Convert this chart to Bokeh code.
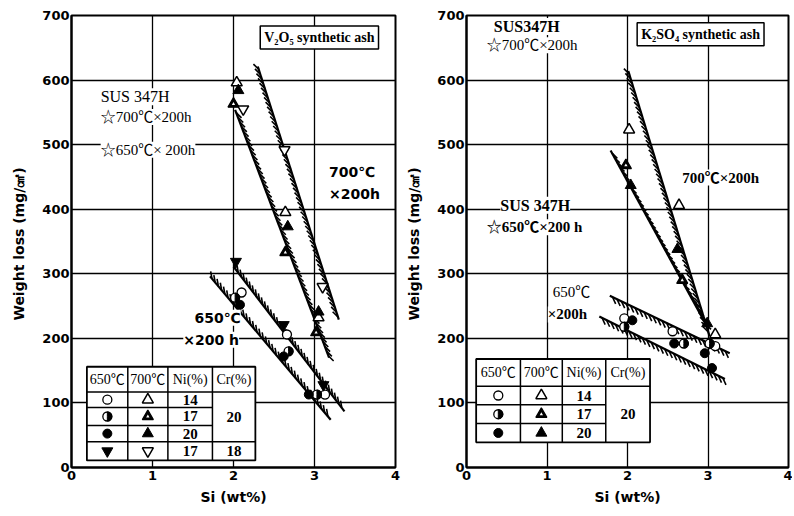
import numpy as np
from bokeh.plotting import figure
from bokeh.layouts import row
from bokeh.models import Label, Range1d, FixedTicker
from bokeh.core.properties import value
from bokeh.embed import file_html
from bokeh.resources import INLINE

# ---------------- data : V2O5 synthetic ash (left) ----------------
v_c650_ni14_x = [2.10, 2.66, 3.13]; v_c650_ni14_y = [271, 206, 113]   # open circle
v_c650_ni17_x = [2.02, 2.68, 3.03]; v_c650_ni17_y = [263, 180, 113]   # half circle
v_c650_ni20_x = [2.08, 2.62, 2.93]; v_c650_ni20_y = [252, 172, 113]   # filled circle
v_c650_cr18_x = [2.03, 2.62, 3.11]; v_c650_cr18_y = [319, 221, 128]   # filled down-triangle
v_t700_ni14_x = [2.04, 2.64, 3.05]; v_t700_ni14_y = [596, 395, 232]   # open triangle
v_t700_ni17_x = [2.00, 2.64, 3.02]; v_t700_ni17_y = [563, 333, 209]   # half triangle
v_t700_ni20_x = [2.06, 2.67, 3.05]; v_t700_ni20_y = [584, 373, 241]   # filled triangle
v_t700_cr18_x = [2.12, 2.63, 3.10]; v_t700_cr18_y = [555, 492, 280]   # open down-triangle
# band boundary lines (700 upper, 700 lower, 650 upper, 650 lower)
v_band_x0 = [2.30, 2.02, 2.00, 1.71]; v_band_y0 = [621, 554, 311, 296]
v_band_x1 = [3.30, 3.18, 3.37, 3.20]; v_band_y1 = [229, 170, 87, 74]

# ---------------- data : K2SO4 synthetic ash (right) ----------------
k_c650_ni14_x = [1.96, 2.56, 3.09]; k_c650_ni14_y = [231, 211, 188]
k_c650_ni17_x = [1.96, 2.70, 3.02]; k_c650_ni17_y = [218, 192, 192]
k_c650_ni20_x = [2.06, 2.58, 2.96, 3.05]; k_c650_ni20_y = [228, 192, 177, 154]
k_t700_ni14_x = [2.02, 2.64, 3.09]; k_t700_ni14_y = [523, 406, 206]
k_t700_ni17_x = [1.98, 2.68]; k_t700_ni17_y = [468, 290]
k_t700_ni20_x = [2.04, 2.62, 2.99]; k_t700_ni20_y = [437, 338, 223]
k_band_x0 = [2.01, 1.79, 1.78, 1.65]; k_band_y0 = [614, 491, 266, 234]
k_band_x1 = [3.02, 2.99, 3.27, 3.21]; k_band_y1 = [203, 218, 177, 137]

x_ticks = [0, 1, 2, 3, 4]
y_ticks = [0, 100, 200, 300, 400, 500, 600, 700]

# legend table contents
tab_head = ["650℃", "700℃", "Ni(%)", "Cr(%)"]
v_tab_ni = ["14", "17", "20", "17"]
v_tab_cr = ["20", "18"]
k_tab_ni = ["14", "17", "20"]
k_tab_cr = ["20"]

SERIF = "Liberation Serif, Noto Sans CJK JP"
SANS = "DejaVu Sans"
FH = 452


def make_fig(fw, left, right):
    p = figure(frame_width=fw, frame_height=FH, min_border_left=left, min_border_right=right,
               min_border_top=15, min_border_bottom=40, output_backend="svg",
               toolbar_location=None, x_range=Range1d(0, 4), y_range=Range1d(0, 700))
    p.xaxis.ticker = FixedTicker(ticks=x_ticks)
    p.yaxis.ticker = FixedTicker(ticks=y_ticks)
    p.xgrid.ticker = FixedTicker(ticks=x_ticks[1:-1])
    p.ygrid.ticker = FixedTicker(ticks=y_ticks[1:-1])
    for g in (p.xgrid, p.ygrid):
        g.grid_line_color = "black"
        g.grid_line_width = 1.3
    for ax in (p.xaxis, p.yaxis):
        ax.axis_line_width = 2
        ax.axis_line_color = "black"
        ax.major_tick_in = 0
        ax.major_tick_out = 0
        ax.minor_tick_in = 0
        ax.minor_tick_out = 0
        ax.major_label_text_font = SANS
        ax.major_label_text_font_style = "bold"
        ax.major_label_text_font_size = "13px"
        ax.major_label_text_color = "black"
        ax.axis_label_text_font = SANS
        ax.axis_label_text_font_style = "bold"
        ax.axis_label_text_font_size = "14px"
        ax.axis_label_text_color = "black"
    p.yaxis.major_label_standoff = 2
    p.xaxis.major_label_standoff = 3
    p.yaxis.axis_label_standoff = 12
    p.xaxis.axis_label_standoff = 6
    p.xaxis.axis_label = "Si (wt%)"
    p.yaxis.axis_label = "Weight loss  (mg/㎠)"
    p.outline_line_color = "black"
    p.outline_line_width = 2
    p.outline_line_alpha = 1
    p.background_fill_color = "white"
    return p


def bands(p, x0s, y0s, x1s, y1s, sides, angles, fw):
    kx = fw / 4.0
    ky = FH / 700.0
    for x0, y0, x1, y1, side, ang in zip(x0s, y0s, x1s, y1s, sides, angles):
        p.line([x0, x1], [y0, y1], line_color="black", line_width=2.2)
        sx0, sy0, sx1, sy1 = x0 * kx, y0 * ky, x1 * kx, y1 * ky
        L = np.hypot(sx1 - sx0, sy1 - sy0)
        ux, uy = (sx1 - sx0) / L, (sy1 - sy0) / L
        nx, ny = -uy * side, ux * side
        dx, dy = np.cos(np.radians(ang)), np.sin(np.radians(ang))
        if dx * nx + dy * ny < 0:
            dx, dy = -dx, -dy
        t = np.arange(3, L - 1, 5.0)
        px, py = sx0 + ux * t, sy0 + uy * t
        ex, ey = px + dx * 7.5, py + dy * 7.5
        p.segment(px / kx, py / ky, ex / kx, ey / ky, line_color="black", line_width=1.6)


def half_circle(p, xs, ys):
    p.scatter(xs, ys, marker="circle", size=9, fill_color="white", line_color="black", line_width=1.3)
    p.wedge(xs, ys, radius=4.5, radius_units="screen", start_angle=-np.pi / 2, end_angle=np.pi / 2,
            fill_color="black", line_color="black")


def half_tri(p, xs, ys, size=11):
    p.scatter(xs, ys, marker="triangle", size=size, fill_color="black", line_color="black",
              line_width=1.3)
    p.scatter(xs, ys, marker="triangle", size=size * 0.3, fill_color="white", line_color=None)


def markers(p, c14, c17, c20, t14, t17, t20, cdn=None, tdn=None):
    p.scatter(*c14, marker="circle", size=9, fill_color="white", line_color="black", line_width=1.3)
    half_circle(p, *c17)
    p.scatter(*c20, marker="circle", size=9, fill_color="black", line_color="black")
    p.scatter(*t14, marker="triangle", size=11, fill_color="white", line_color="black", line_width=1.5)
    half_tri(p, *t17)
    p.scatter(*t20, marker="triangle", size=11, fill_color="black", line_color="black")
    if cdn is not None:
        p.scatter(*cdn, marker="inverted_triangle", size=11, fill_color="black", line_color="black")
    if tdn is not None:
        p.scatter(*tdn, marker="inverted_triangle", size=11, fill_color="white", line_color="black",
                  line_width=1.5)


def table(p, cols, rows, ni, cr, with_down):
    p.quad(left=cols[0], right=cols[-1], bottom=rows[-1], top=rows[0], fill_color="white",
           line_color="black", line_width=1.8)
    p.segment(cols[1:-1], [rows[-1]] * 3, cols[1:-1], [rows[0]] * 3, line_color="black", line_width=1.5)
    hx0 = [cols[0]] * (len(rows) - 2)
    hx1 = []
    for i, r in enumerate(rows[1:-1]):
        last = (i == len(rows) - 3)
        full = (i == 0) or (with_down and last)
        hx1.append(cols[-1] if full else cols[3])
    p.segment(hx0, rows[1:-1], hx1, rows[1:-1], line_color="black", line_width=1.5)
    cx = [(cols[i] + cols[i + 1]) / 2 for i in range(4)]
    cy = [(rows[i] + rows[i + 1]) / 2 for i in range(len(rows) - 1)]
    p.text(cx, [cy[0]] * 4, text=tab_head, text_font=value(SERIF), text_font_size="14px",
           text_align="center", text_baseline="middle", text_color="black")
    nrow = len(ni)
    p.text([cx[2]] * nrow, cy[1:1 + nrow], text=ni, text_font=value(SERIF), text_font_size="15px",
           text_font_style="bold", text_align="center", text_baseline="middle")
    cr_y = [(rows[1] + rows[4]) / 2] + ([cy[4]] if with_down else [])
    p.text([cx[3]] * len(cr), cr_y, text=cr, text_font=value(SERIF), text_font_size="15px",
           text_font_style="bold", text_align="center", text_baseline="middle")
    markers(p, ([cx[0]], [cy[1]]), ([cx[0]], [cy[2]]), ([cx[0]], [cy[3]]),
            ([cx[1]], [cy[1]]), ([cx[1]], [cy[2]]), ([cx[1]], [cy[3]]),
            ([cx[0]], [cy[4]]) if with_down else None, ([cx[1]], [cy[4]]) if with_down else None)


def label(p, x, y, text, font=SERIF, size="15px", style="normal", box=False):
    lb = Label(x=x, y=y, text=text, text_font=font, text_font_size=size, text_font_style=style,
               text_baseline="middle", text_color="black", background_fill_color="white",
               background_fill_alpha=1.0)
    if box:
        lb.border_line_color = "black"
        lb.border_line_width = 1.5
        lb.padding = 4
    p.add_layout(lb)


# ---------------- left panel ----------------
FWL = 324
p1 = make_fig(FWL, 71, 8)
bands(p1, v_band_x0, v_band_y0, v_band_x1, v_band_y1, [-1, 1, 1, 1], [135, 135, 100, 100], FWL)
markers(p1, (v_c650_ni14_x, v_c650_ni14_y), (v_c650_ni17_x, v_c650_ni17_y),
        (v_c650_ni20_x, v_c650_ni20_y), (v_t700_ni14_x, v_t700_ni14_y),
        (v_t700_ni17_x, v_t700_ni17_y), (v_t700_ni20_x, v_t700_ni20_y),
        (v_c650_cr18_x, v_c650_cr18_y), (v_t700_cr18_x, v_t700_cr18_y))
table(p1, [0.19, 0.695, 1.19, 1.74, 2.27], [156, 117, 93, 65, 40, 11], v_tab_ni, v_tab_cr, True)
label(p1, 2.33, 666, "V₂O₅ synthetic ash", size="14px", style="bold", box=True)
label(p1, 0.36, 574, "SUS 347H", size="16px")
label(p1, 0.36, 543, "☆700℃×200h", size="15px")
label(p1, 0.36, 492, "☆650℃× 200h", size="15px")
label(p1, 3.18, 458, "700℃", font=SANS, size="14px", style="bold")
label(p1, 3.18, 423, "×200h", font=SANS, size="14px", style="bold")
label(p1, 1.52, 232, "650℃", font=SANS, size="14px", style="bold")
label(p1, 1.38, 198, "×200 h", font=SANS, size="14px", style="bold")

# ---------------- right panel ----------------
FWR = 322
p2 = make_fig(FWR, 59, 4)
bands(p2, k_band_x0, k_band_y0, k_band_x1, k_band_y1, [-1, 1, -1, -1], [135, 135, 115, 115], FWR)
markers(p2, (k_c650_ni14_x, k_c650_ni14_y), (k_c650_ni17_x, k_c650_ni17_y),
        (k_c650_ni20_x, k_c650_ni20_y), (k_t700_ni14_x, k_t700_ni14_y),
        (k_t700_ni17_x, k_t700_ni17_y), (k_t700_ni20_x, k_t700_ni20_y))
table(p2, [0.12, 0.67, 1.19, 1.73, 2.28], [168, 126, 97, 68, 39], k_tab_ni, k_tab_cr, False)
label(p2, 2.12, 671, "K₂SO₄ synthetic ash", size="14px", style="bold", box=True)
label(p2, 0.34, 683, "SUS347H", size="16px", style="bold")
label(p2, 0.25, 654, "☆700℃×200h", size="15px")
label(p2, 2.68, 449, "700℃×200h", size="15px", style="bold")
label(p2, 0.42, 406, "SUS 347H", size="16px", style="bold")
label(p2, 0.25, 372, "☆650℃×200 h", size="15px", style="bold")
label(p2, 1.07, 272, "650℃", size="15px")
label(p2, 1.01, 237, "×200h", size="15px", style="bold")

layout = row(p1, p2)
open("out.html", "w").write(file_html(layout, INLINE))
